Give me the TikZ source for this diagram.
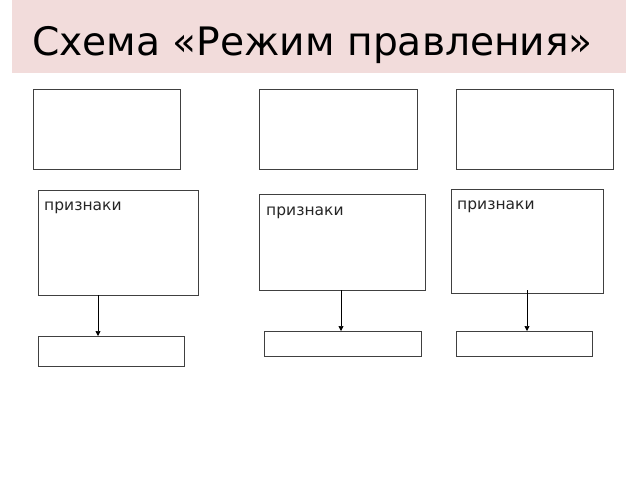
\documentclass[tikz,border=0pt]{standalone}
\usepackage{fontspec}
\setmainfont{DejaVu Sans}
\usetikzlibrary{arrows.meta}
\definecolor{titlepink}{HTML}{F2DCDB}
\definecolor{boxline}{HTML}{404040}
\tikzset{
  box/.style={draw=boxline, line width=0.9pt, fill=white, inner sep=0pt, outer sep=0pt, anchor=north west},
  lbl/.style={anchor=base west, inner sep=0pt, text=black!85, font=\fontsize{15.5}{18}\selectfont},
  arr/.style={draw=black, line width=0.7pt, -{Triangle[length=5pt,width=5pt]}}
}
\begin{document}
\begin{tikzpicture}[x=1pt,y=-1pt]
\useasboundingbox (0,0) rectangle (640,480);
\fill[white] (0,0) rectangle (640,480);
\node[fill=titlepink, inner sep=0pt, anchor=north west, minimum width=614pt, minimum height=73pt] (bar) at (12,0) {};
\node[anchor=base west, inner sep=0pt, font=\fontsize{39.2}{46}\selectfont] (title) at (32,55) {Схема «Режим правления»};
% top row
\node[box, minimum width=147pt, minimum height=80pt] (t1) at (33,89) {};
\node[box, minimum width=158pt, minimum height=80pt] (t2) at (259,89) {};
\node[box, minimum width=157pt, minimum height=80pt] (t3) at (456,89) {};
% middle row
\node[box, minimum width=160pt, minimum height=105pt] (m1) at (38,190) {};
\node[box, minimum width=166pt, minimum height=96pt] (m2) at (259,194) {};
\node[box, minimum width=152pt, minimum height=104pt] (m3) at (451,189) {};
\node[lbl] (l1) at ([shift={(6,20)}]m1.north west) {признаки};
\node[lbl] (l2) at ([shift={(7,21)}]m2.north west) {признаки};
\node[lbl] (l3) at ([shift={(6,20)}]m3.north west) {признаки};
% bottom row
\node[box, minimum width=146pt, minimum height=30pt] (b1) at (38,336) {};
\node[box, minimum width=157pt, minimum height=25pt] (b2) at (264,331) {};
\node[box, minimum width=136pt, minimum height=25pt] (b3) at (456,331) {};
% arrows
\draw[arr] ([xshift=60pt]m1.south west) -- ([xshift=60pt]m1.south west |- b1.north);
\draw[arr] ([xshift=82pt]m2.south west) -- ([xshift=82pt]m2.south west |- b2.north);
\draw[arr] ([xshift=76pt,yshift=3pt]m3.south west) -- ([xshift=76pt]m3.south west |- b3.north);
\end{tikzpicture}
\end{document}
